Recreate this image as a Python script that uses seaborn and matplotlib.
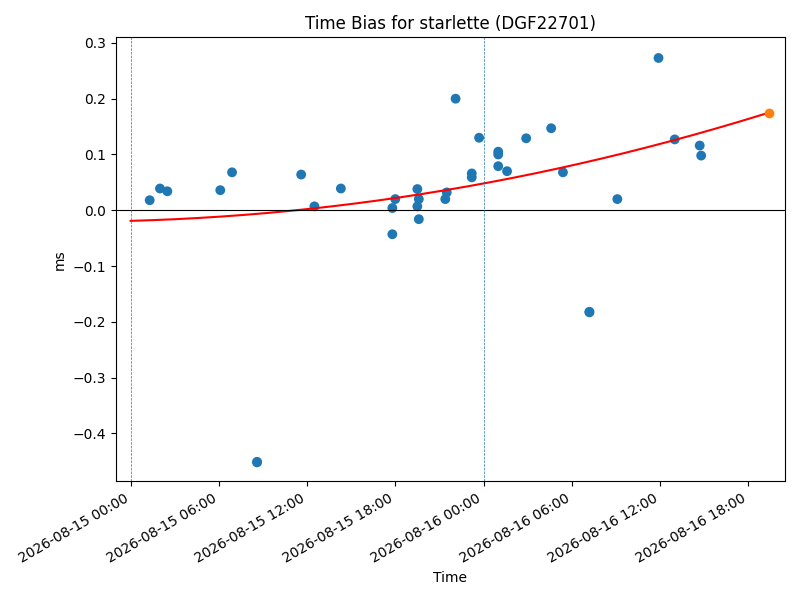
import numpy as np
import pandas as pd
import matplotlib
matplotlib.use("Agg")
import matplotlib.pyplot as plt
import matplotlib.dates as mdates
import seaborn as sns

start = pd.Timestamp("2026-08-15 00:00")

# hours since start, bias in ms
hours = [1.3, 2.0, 2.5, 6.1, 6.9, 8.6, 8.6, 11.6, 12.5, 14.3, 17.8, 17.8, 18.0,
         19.5, 19.5, 19.6, 19.6, 21.4, 21.5, 22.1, 23.2, 23.2, 23.7, 25.0, 25.0,
         25.0, 25.6, 26.9, 28.6, 29.4, 31.2, 31.2, 33.1, 35.9, 37.0, 38.7, 38.8]
bias = [0.018, 0.039, 0.034, 0.036, 0.068, -0.451, -0.452, 0.064, 0.007, 0.039, 0.004,
        -0.043, 0.020, 0.007, 0.038, 0.020, -0.016, 0.020, 0.032, 0.200, 0.066,
        0.059, 0.130, 0.105, 0.100, 0.079, 0.070, 0.129, 0.147, 0.068, -0.182,
        -0.183, 0.020, 0.273, 0.127, 0.116, 0.098]
pred_hour = 43.4
pred_bias = 0.175
fit_coef = [0.0000865, 0.000716, -0.019]  # quadratic in hours

times = start + pd.to_timedelta(hours, unit="h")
df = pd.DataFrame({"Time": times, "ms": bias})

fig, ax = plt.subplots(figsize=(8, 6), dpi=100)
sns.scatterplot(data=df, x="Time", y="ms", ax=ax, color="C0", s=50, edgecolor="none")

t_fit = np.linspace(0, pred_hour, 200)
ax.plot(start + pd.to_timedelta(t_fit, unit="h"), np.polyval(fit_coef, t_fit), color="red")
ax.scatter([start + pd.Timedelta(hours=pred_hour)], [pred_bias], color="C1", zorder=3)

ax.axhline(0, color="black", linewidth=0.8)
for d in [start, start + pd.Timedelta(days=1)]:
    ax.axvline(d, color="C0", linestyle="--", linewidth=0.5)

ax.set_xlim(start - pd.Timedelta(hours=1.0), start + pd.Timedelta(hours=44.5))
ax.set_ylim(-0.486, 0.31)
ax.xaxis.set_major_locator(mdates.HourLocator(byhour=[0, 6, 12, 18]))
ax.xaxis.set_major_formatter(mdates.DateFormatter("%Y-%m-%d %H:%M"))
ax.set_title("Time Bias for starlette (DGF22701)")
ax.set_xlabel("Time")
ax.set_ylabel("ms")
fig.autofmt_xdate()
fig.tight_layout()
fig.savefig("out.png")
